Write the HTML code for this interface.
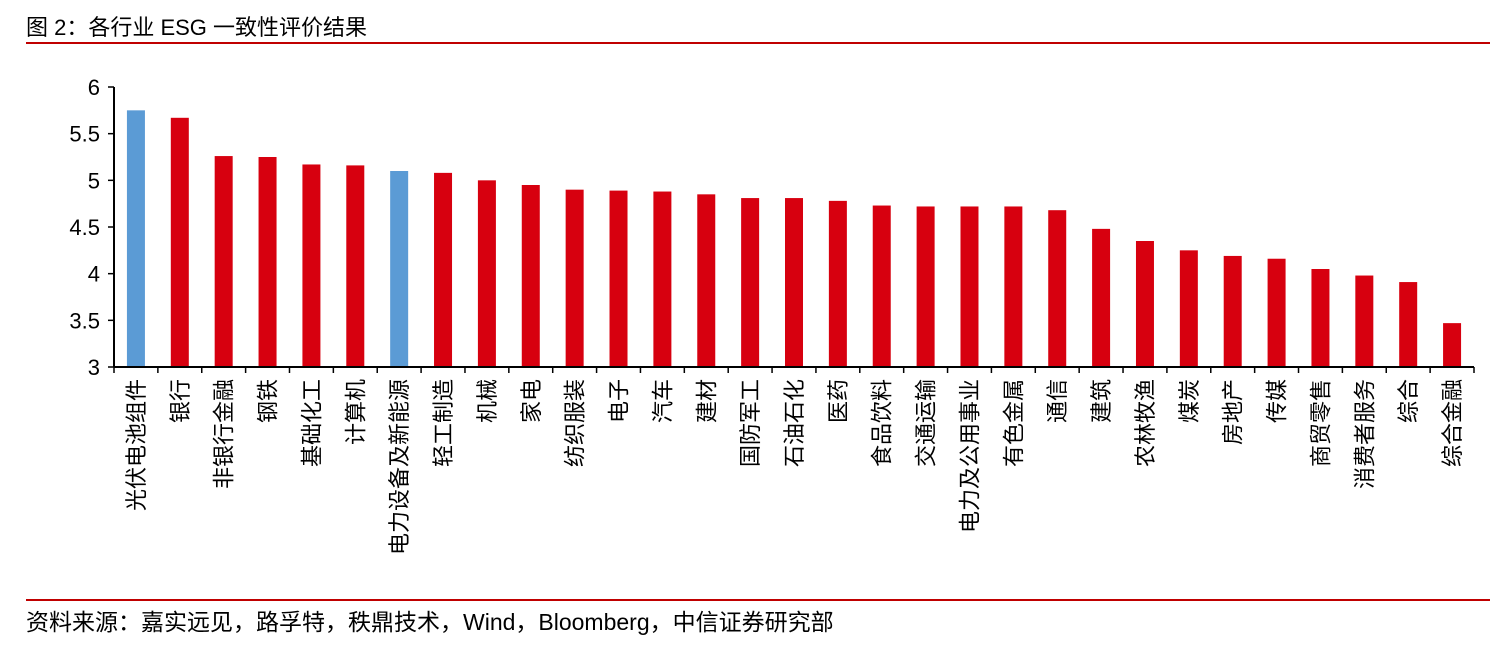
<!DOCTYPE html>
<html><head><meta charset="utf-8"><style>
body{margin:0;background:#fff;font-family:"Liberation Sans","Noto Sans CJK SC",sans-serif;}
</style></head><body>
<svg width="1505" height="654" xmlns="http://www.w3.org/2000/svg" style="font-family:'Liberation Sans','Noto Sans CJK SC',sans-serif">
<text x="26" y="35" font-size="22" fill="#000">图 2：各行业 ESG 一致性评价结果</text>
<line x1="26" y1="43" x2="1490" y2="43" stroke="#c00000" stroke-width="2"/>
<line x1="26" y1="600" x2="1490" y2="600" stroke="#c00000" stroke-width="2"/>
<text x="26" y="630" font-size="23" fill="#000">资料来源：嘉实远见，路孚特，秩鼎技术，Wind，Bloomberg，中信证券研究部</text>
<g id="plot"></g>
</svg>
<script>
const categories=["光伏电池组件","银行","非银行金融","钢铁","基础化工","计算机","电力设备及新能源","轻工制造","机械","家电","纺织服装","电子","汽车","建材","国防军工","石油石化","医药","食品饮料","交通运输","电力及公用事业","有色金属","通信","建筑","农林牧渔","煤炭","房地产","传媒","商贸零售","消费者服务","综合","综合金融"];
const values=[5.75,5.67,5.26,5.25,5.17,5.16,5.10,5.08,5.00,4.95,4.90,4.89,4.88,4.85,4.81,4.81,4.78,4.73,4.72,4.72,4.72,4.68,4.48,4.35,4.25,4.19,4.16,4.05,3.98,3.91,3.47];
const highlight=["光伏电池组件","电力设备及新能源"];
const yTicks=[3,3.5,4,4.5,5,5.5,6];
const yTickLabels=["3","3.5","4","4.5","5","5.5","6"];
const NS="http://www.w3.org/2000/svg";
const g=document.getElementById('plot');
const x0=114,x1=1474,yTop=87,yBot=367,yMin=3,yMax=6;
const band=(x1-x0)/categories.length;
const y=v=>yBot-(v-yMin)/(yMax-yMin)*(yBot-yTop);
const xc=i=>x0+band*(i+0.5);
function el(t,a){const e=document.createElementNS(NS,t);for(const k in a)e.setAttribute(k,a[k]);g.appendChild(e);return e;}
values.forEach((v,i)=>{
  const r=el('rect',{x:xc(i)-9,y:y(v),width:18,height:yBot-y(v),fill:highlight.includes(categories[i])?'#5b9bd5':'#d7000f'});
  
  
});
const ax=el('line',{x1:x0,y1:yTop,x2:x0,y2:yBot,stroke:'#000','stroke-width':2});


const bx=el('line',{x1:x0,y1:yBot,x2:x1,y2:yBot,stroke:'#000','stroke-width':2});


yTicks.forEach((t,i)=>{
  const tk=el('line',{x1:x0-6,y1:y(t),x2:x0,y2:y(t),stroke:'#000','stroke-width':1.5});
  
  
  const tx=el('text',{x:x0-14,y:y(t)+8,'font-size':22,'text-anchor':'end',fill:'#000'});
  tx.textContent=yTickLabels[i];
  
  
});
for(let i=0;i<=categories.length;i++){
  const tk=el('line',{x1:x0+band*i,y1:yBot,x2:x0+band*i,y2:yBot+6,stroke:'#000','stroke-width':1.5});
  
  
}
categories.forEach((c,i)=>{
  const tx=el('text',{x:0,y:0,'font-size':22,'text-anchor':'end',fill:'#000',transform:`translate(${xc(i)+8},379) rotate(-90)`});
  tx.textContent=c;
  
  
});
</script>
</body></html>
